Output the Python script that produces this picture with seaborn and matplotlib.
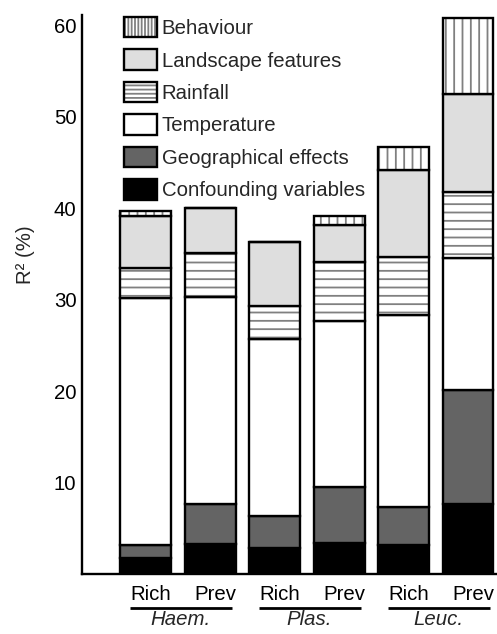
import numpy as np
import matplotlib
matplotlib.use("Agg")
import matplotlib.pyplot as plt
from matplotlib.patches import Patch
from matplotlib.legend_handler import HandlerTuple
import seaborn as sns

# ---- data -------------------------------------------------------------
bars = ["Haem. Rich", "Haem. Prev", "Plas. Rich", "Plas. Prev", "Leuc. Rich", "Leuc. Prev"]
measure_labels = ["Rich", "Prev", "Rich", "Prev", "Rich", "Prev"]
genera = ["Haem.", "Plas.", "Leuc."]

# variance explained (R², %) by each group of predictors, stacked bottom-up
confounding = [1.8, 3.3, 2.8, 3.4, 3.2, 7.7]
geographical = [1.4, 4.4, 3.5, 6.1, 4.1, 12.4]
temperature = [27.0, 22.6, 19.4, 18.1, 21.0, 14.4]
rainfall = [3.2, 4.8, 3.6, 6.5, 6.4, 7.3]
landscape = [5.7, 4.9, 7.0, 4.1, 9.5, 10.7]
behaviour = [0.6, 0.0, 0.0, 0.9, 2.5, 8.3]

yticks = [10, 20, 30, 40, 50, 60]

# ---- style ------------------------------------------------------------
sns.set_style("white")
plt.rcParams["font.family"] = ["Liberation Sans", "DejaVu Sans"]
plt.rcParams["hatch.linewidth"] = 1.3
FS = 14.7
HATCH_GRAY = "0.5"

layers = [
    # name, values, face, bar hatch, legend hatch
    ("Confounding variables", confounding, "black", None, None),
    ("Geographical effects", geographical, "#646464", None, None),
    ("Temperature", temperature, "white", None, None),
    ("Rainfall", rainfall, "white", "--", "----"),
    ("Landscape features", landscape, "#dedede", None, None),
    ("Behaviour", behaviour, "white", "||", "|||||"),
]

fig = plt.figure(figsize=(4.97, 6.34), dpi=100)
W, H = 497, 634
ax = fig.add_axes([82 / W, 1 - 574 / H, 1 - 82 / W, (574 - 15) / H])

bottom = np.zeros(len(bars))
for name, vals, face, hatch, _ in layers:
    vals = np.asarray(vals, dtype=float)
    # filled segment (hatch drawn in grey)
    sns.barplot(x=bars, y=vals, order=bars, ax=ax, errorbar=None,
                width=0.79, saturation=1, color=face,
                bottom=bottom, facecolor=face,
                edgecolor=HATCH_GRAY if hatch else face,
                linewidth=0, hatch=hatch)
    # black outline of the segment
    sns.barplot(x=bars, y=vals, order=bars, ax=ax, errorbar=None,
                width=0.79, saturation=1, color="black",
                bottom=bottom, facecolor="none",
                edgecolor="black", linewidth=1.7)
    bottom = bottom + vals

# ---- axes -------------------------------------------------------------
pos = np.arange(len(bars))
ax.set_xlim(-0.99, 5.45)
ax.set_ylim(0, 61.1)
ax.set_yticks(yticks)
ax.set_yticklabels([str(t) for t in yticks], fontsize=FS)
ax.tick_params(axis="y", direction="in", length=3, width=1.4, pad=4, colors="black")
ax.set_xticks(pos + 0.08)
ax.set_xticklabels(measure_labels, fontsize=FS)
ax.tick_params(axis="x", length=0, pad=8, colors="black")
ax.set_xlabel("")
sns.despine(ax=ax, top=True, right=True)
for side in ("left", "bottom"):
    ax.spines[side].set_linewidth(1.7)
    ax.spines[side].set_color("black")

ax.set_ylabel("R² (%)", fontsize=FS, va="center")
ax.yaxis.set_label_coords(-0.137, 0.571)

# genus underline + names below the measure labels
trans = ax.get_xaxis_transform()
for g, genus in enumerate(genera):
    left, right = pos[2 * g], pos[2 * g + 1]
    ax.plot([left - 0.24, right + 0.34], [-0.060, -0.060], transform=trans,
            color="black", linewidth=2.0, clip_on=False, solid_capstyle="butt")
    ax.text((left + right) / 2 + 0.04, -0.0815, genus, transform=trans,
            ha="center", va="center", fontsize=FS, style="italic")

# ---- legend -----------------------------------------------------------
handles, names = [], []
for name, vals, face, hatch, leg_hatch in reversed(layers):
    fill_patch = Patch(facecolor=face, edgecolor=HATCH_GRAY if leg_hatch else face,
                       linewidth=0, hatch=leg_hatch)
    outline = Patch(facecolor="none", edgecolor="black", linewidth=1.7)
    handles.append((fill_patch, outline))
    names.append(name)

ax.legend(handles, names, handler_map={tuple: HandlerTuple(ndivide=1)},
          loc="upper left", bbox_to_anchor=(124 / W, 1 - 17 / H),
          bbox_transform=fig.transFigure, frameon=False, fontsize=FS,
          handlelength=1.6, handleheight=1.15, handletextpad=0.25,
          labelspacing=0.56, borderpad=0, borderaxespad=0)

fig.savefig("out.png", dpi=100)
